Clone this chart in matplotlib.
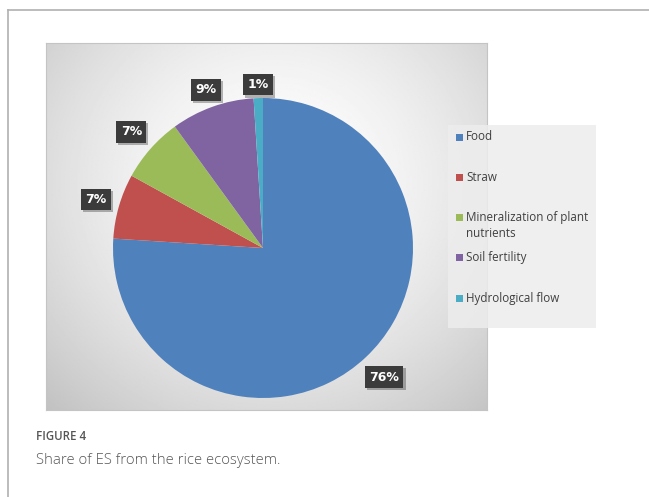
import numpy as np
import matplotlib.pyplot as plt
import matplotlib.patheffects as pe
from matplotlib.patches import Rectangle
from matplotlib.lines import Line2D

labels = ["Food", "Straw", "Mineralization of plant\nnutrients", "Soil fertility", "Hydrological flow"]
shares = [76, 7, 7, 9, 1]
colours = ["#4F81BD", "#C0504D", "#9BBB59", "#8064A2", "#4BACC6"]
label_dist = [1.18, 1.16, 1.17, 1.12, 1.09]

W, H = 649, 497
fig = plt.figure(figsize=(W / 100, H / 100), dpi=100)
fig.patch.set_facecolor("white")


def px(x0, y0, x1, y1):
    # pixel box (top-left origin) -> figure fraction rect
    return [x0 / W, 1 - y1 / H, (x1 - x0) / W, (y1 - y0) / H]


# outer frame lines
fig.add_artist(Line2D([8 / W, 1], [1 - 10 / H, 1 - 10 / H], color="#b0b0b0", lw=1.2))
fig.add_artist(Line2D([8 / W, 8 / W], [0, 1 - 10 / H], color="#b0b0b0", lw=1.2))

# chart area with radial gradient
bg = fig.add_axes(px(46, 43, 487, 410))
yy, xx = np.mgrid[0:1:300j, 0:1:360j]
d = np.sqrt(((xx - 0.52) / 0.75) ** 2 + ((yy - 0.38) / 0.85) ** 2)
shade = 1.0 - 0.24 * np.clip(d, 0, 1.2) ** 1.6
bg.imshow(shade, cmap="gray", vmin=0, vmax=1, aspect="auto", extent=[0, 1, 1, 0])
bg.set_xticks([])
bg.set_yticks([])
for s in bg.spines.values():
    s.set_color("#c4c4c4")
    s.set_linewidth(0.8)

# legend box
fig.add_artist(Rectangle((448 / W, 1 - 328 / H), 148 / W, 203 / H,
                         transform=fig.transFigure, facecolor="#ededed",
                         edgecolor="none", alpha=0.85))

# pie
ax = fig.add_axes(px(113, 98, 413, 398))
wedges, texts, autotexts = ax.pie(
    shares, colors=colours, startangle=90, counterclock=False,
    autopct="%d%%", pctdistance=1.17, radius=1.0,
    textprops=dict(color="white", fontsize=9, fontweight="bold", family="DejaVu Sans"),
)
for w, t, dist in zip(wedges, autotexts, label_dist):
    mid = np.deg2rad((w.theta1 + w.theta2) / 2)
    t.set_position((dist * np.cos(mid), dist * np.sin(mid)))
    t.set_clip_on(False)
    t.set_bbox(dict(boxstyle="square,pad=0.35", facecolor="#3b3b3b", edgecolor="none"))
    t.get_bbox_patch().set_path_effects([pe.SimplePatchShadow(offset=(1.5, -1.5), alpha=0.3), pe.Normal()])
ax.set_xlim(-1, 1)
ax.set_ylim(-1, 1)
ax.set_aspect("auto")
ax.axis("off")

# legend entries
for i, (lab, col) in enumerate(zip(labels, colours)):
    y = 137 + i * 40.3
    fig.add_artist(Rectangle((456 / W, 1 - (y + 3.5) / H), 7 / W, 7 / H,
                             transform=fig.transFigure, facecolor=col, edgecolor="none"))
    if "\n" in lab:
        fig.text(466 / W, 1 - (y - 6.5) / H, lab, fontsize=8.4, color="#404040", va="top",
                 linespacing=1.3, family="Open Sans")
    else:
        fig.text(466 / W, 1 - y / H, lab, fontsize=8.4, color="#404040", va="center",
                 family="Open Sans")

# caption
fig.text(36 / W, 1 - 437 / H, "FIGURE 4", fontsize=8.3, color="#555555", va="center",
         family="Open Sans", fontweight="semibold")
fig.text(36 / W, 1 - 460 / H, "Share of ES from the rice ecosystem.", fontsize=10.7,
         color="#555555", va="center", family="Open Sans", fontweight="light")

fig.savefig("out.png", dpi=100)
